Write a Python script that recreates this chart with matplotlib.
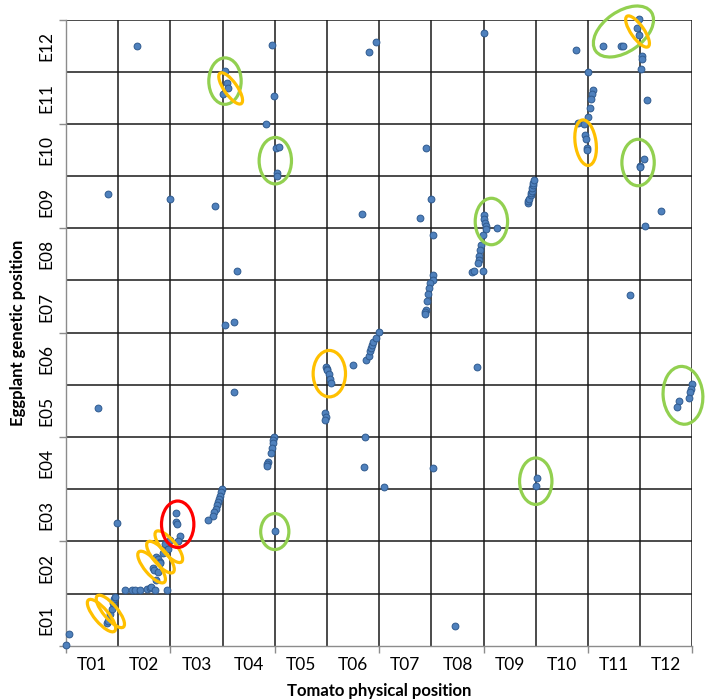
import matplotlib
matplotlib.use("Agg")
import matplotlib.pyplot as plt
from matplotlib.patches import Ellipse
import numpy as np

plt.rcParams['font.family'] = ['Lato', 'DejaVu Sans']

# Chromosome labels (one grid cell per chromosome)
tomato_labels = [f"T{i:02d}" for i in range(1, 13)]
eggplant_labels = [f"E{i:02d}" for i in range(1, 13)]

# Marker positions (units = chromosome cells)
tomato_pos = [
    0.00, 0.06,
    0.79, 0.81, 0.84, 0.875, 0.91, 0.92, 0.94,
    1.14, 1.27, 1.32, 1.42, 1.55, 1.60, 1.63, 1.71, 1.93,
    1.72, 1.66, 1.69, 1.76, 1.72, 1.77, 1.81, 1.80, 1.85, 1.90, 1.93, 1.90, 1.95, 1.99,
    2.10, 2.10, 2.12, 2.18, 2.15,
    0.98,
    2.99, 2.97, 2.95, 2.93, 2.91, 2.90, 2.87, 2.84, 2.81, 2.72,
    4.00,
    3.985, 3.97, 3.96, 3.94, 3.92, 3.87, 3.86, 3.845,
    3.21, 0.62,
    4.97, 4.98, 4.97,
    4.99, 5.00, 5.01, 5.03, 5.06, 5.08,
    5.49,
    5.75, 5.80, 5.82, 5.84, 5.87, 5.89, 5.93, 6.00,
    7.87,
    5.72, 5.70, 7.03, 6.10,
    9.02, 9.00,
    7.45,
    11.99, 11.97, 11.95, 11.94, 11.74, 11.71,
    7.04, 7.03, 6.97, 6.95, 6.94, 6.92, 6.90, 6.88, 6.87,
    10.80,
    7.78, 7.82, 7.98, 7.95, 7.94, 7.92, 7.91, 7.90, 7.99, 7.04,
    8.00, 8.01, 8.03, 8.04, 8.05, 8.26,
    5.68, 6.99, 6.78,
    8.85, 8.86, 8.88, 8.90, 8.91, 8.92, 8.93, 8.94, 8.95, 8.96,
    11.39, 11.10,
    0.80, 1.99, 2.85, 3.28, 3.05, 3.22,
    4.02, 4.09, 4.04, 4.04,
    3.83, 3.985,
    3.05, 3.08, 3.10, 3.01,
    1.37, 3.95,
    6.89,
    9.80, 9.92, 9.95, 9.96, 9.98, 9.98,
    10.01, 10.10, 10.08, 10.06, 10.04, 10.01,
    11.13,
    11.07, 11.00, 11.00,
    5.80, 5.94, 8.00, 9.78, 10.29, 10.63, 10.68,
    10.93, 10.97, 10.97, 11.03, 11.03, 11.02,
]
eggplant_pos = [
    0.01, 0.23,
    0.44, 0.47, 0.62, 0.70, 0.82, 0.90, 0.93,
    1.08, 1.08, 1.08, 1.08, 1.09, 1.11, 1.12, 1.07, 1.08,
    1.26, 1.49, 1.45, 1.42, 1.70, 1.66, 1.61, 1.58, 1.77, 1.87, 1.93, 1.95, 1.85, 2.03,
    2.55, 2.37, 2.33, 2.10, 2.01,
    2.35,
    3.01, 2.94, 2.88, 2.81, 2.75, 2.69, 2.62, 2.56, 2.49, 2.41,
    2.20,
    4.01, 3.94, 3.88, 3.80, 3.70, 3.52, 3.48, 3.45,
    4.86, 4.56,
    4.46, 4.39, 4.33,
    5.34, 5.31, 5.29, 5.20, 5.11, 5.04,
    5.38,
    5.48, 5.56, 5.64, 5.70, 5.76, 5.83, 5.90, 6.01,
    5.34,
    4.01, 3.43, 3.40, 3.05,
    3.22, 3.06,
    0.375,
    5.01, 4.93, 4.86, 4.74, 4.69, 4.58,
    7.10, 7.01, 6.95, 6.85, 6.75, 6.60, 6.43, 6.40, 6.36,
    6.73,
    7.16, 7.18, 7.18, 7.68, 7.58, 7.46, 7.39, 7.33, 7.87, 7.87,
    8.25, 8.17, 8.11, 8.04, 7.99, 8.01,
    8.27, 8.57, 8.19,
    8.49, 8.53, 8.57, 8.63, 8.68, 8.72, 8.77, 8.82, 8.87, 8.92,
    8.34, 8.05,
    8.66, 8.56, 8.43, 7.18, 6.15, 6.20,
    9.54, 9.55, 9.06, 9.01,
    9.99, 10.53,
    11.01, 10.78, 10.69, 10.57,
    11.50, 11.505,
    9.53,
    10.01, 9.99, 9.79, 9.71, 9.54, 9.50,
    11.00, 10.65, 10.57, 10.48, 10.31, 10.13,
    10.45,
    9.32, 9.20, 9.17,
    11.38, 11.56, 11.75, 11.42, 11.50, 11.50, 11.50,
    11.84, 12.01, 11.71, 11.31, 11.24, 11.06,
]

# Highlight rings: (x, y, width, height, angle, colour)
ORANGE, GREEN, RED = '#FFC000', '#92D050', '#FF0000'
rings = [
    (0.68, 0.58, 0.78, 0.27, -50, ORANGE),
    (0.85, 0.66, 0.78, 0.27, -50, ORANGE),
    (1.64, 1.51, 0.76, 0.27, -50, ORANGE),
    (1.81, 1.70, 0.76, 0.27, -50, ORANGE),
    (1.97, 1.90, 0.76, 0.27, -50, ORANGE),
    (2.14, 2.33, 0.62, 0.89, 0, RED),
    (4.00, 2.19, 0.54, 0.69, 0, GREEN),
    (5.045, 5.215, 0.62, 0.89, 0, ORANGE),
    (9.00, 3.155, 0.62, 0.89, 0, GREEN),
    (11.82, 4.80, 0.76, 1.11, 5, GREEN),
    (8.15, 8.13, 0.62, 0.89, 0, GREEN),
    (4.01, 9.295, 0.62, 0.89, 0, GREEN),
    (3.046, 10.82, 0.62, 0.89, 0, GREEN),
    (3.155, 10.68, 0.71, 0.25, -55, ORANGE),
    (9.955, 9.64, 0.40, 0.88, 8, ORANGE),
    (10.96, 9.26, 0.62, 0.89, 0, GREEN),
    (10.68, 11.77, 1.30, 0.77, 35, GREEN),
    (10.95, 11.77, 0.71, 0.25, -55, ORANGE),
]

fig = plt.figure(figsize=(7.08, 6.99), dpi=100)
ax = fig.add_axes([0.0932, 0.0760, 0.8847, 0.8961])

n = len(tomato_labels)
ax.set_xlim(0, n)
ax.set_ylim(0, n)

# Chromosome boundary grid
for k in range(1, n + 1):
    ax.axvline(k, color='#1a1a1a', lw=1.1, zorder=1)
    ax.axhline(k, color='#1a1a1a', lw=1.1, zorder=1)

for side in ['top', 'right']:
    ax.spines[side].set_visible(False)
for side in ['left', 'bottom']:
    ax.spines[side].set_color('#8c8c8c')
    ax.spines[side].set_linewidth(1.0)

# Major ticks every two chromosomes (unlabelled), labels at cell centres
ax.set_xticks(np.arange(0, n + 1, 2))
ax.set_yticks(np.arange(0, n + 1, 2))
ax.set_xticklabels([])
ax.set_yticklabels([])
ax.tick_params(which='major', length=5, color='#8c8c8c', width=1.0)
ax.set_xticks(np.arange(n) + 0.5, minor=True)
ax.set_yticks(np.arange(n) + 0.5, minor=True)
ax.set_xticklabels(tomato_labels, minor=True, fontsize=12.5)
ax.set_yticklabels(eggplant_labels, minor=True, fontsize=12.5,
                   rotation=90, va='center')
ax.tick_params(which='minor', length=0, pad=8)

ax.scatter(tomato_pos, eggplant_pos, s=24, color='#4F81BD',
           edgecolor='#2F5A8F', linewidth=0.7, zorder=3, clip_on=False)

for x, y, w, h, ang, col in rings:
    ax.add_patch(Ellipse((x, y), w, h, angle=ang, fill=False,
                         edgecolor=col, lw=2.3, zorder=4, clip_on=False))

ax.set_xlabel('Tomato physical position', fontsize=12, fontweight='bold',
              labelpad=7)
ax.set_ylabel('Eggplant genetic position', fontsize=12, fontweight='bold',
              labelpad=9)

fig.savefig('out.png', dpi=100, facecolor='white')
plt.close(fig)
